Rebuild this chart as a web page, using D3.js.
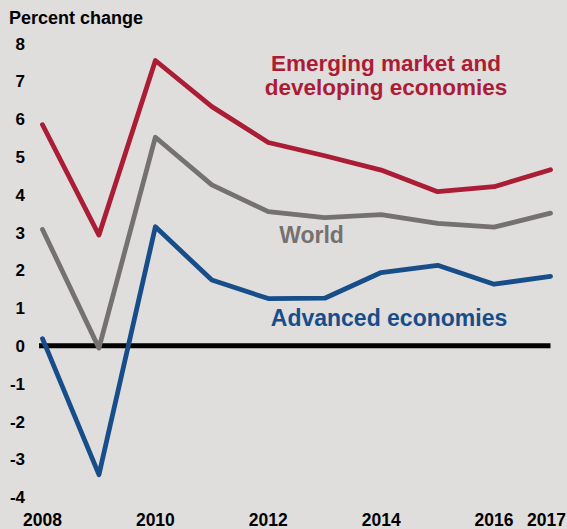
<!DOCTYPE html>
<html>
<head>
<meta charset="utf-8">
<script src="https://cdn.jsdelivr.net/npm/d3@7"></script>
<style>
  body { margin: 0; background: #e0dddd; }
  svg { display: block; }
  text { font-family: "Liberation Sans", Arial, sans-serif; font-weight: bold; }
</style>
</head>
<body>
<script>
//Global variables
const width = 567;
const height = 529;

//Data
const years = [2008, 2009, 2010, 2011, 2012, 2013, 2014, 2015, 2016, 2017];
const emerging = [5.85, 2.93, 7.55, 6.33, 5.38, 5.03, 4.65, 4.08, 4.21, 4.66];
const world = [3.08, -0.06, 5.52, 4.26, 3.55, 3.39, 3.47, 3.24, 3.14, 3.51];
const advanced = [0.19, -3.41, 3.15, 1.74, 1.25, 1.26, 1.94, 2.13, 1.63, 1.84];
const yTicks = [-4, -3, -2, -1, 0, 1, 2, 3, 4, 5, 6, 7, 8];
const xTickYears = [2008, 2010, 2012, 2014, 2016, 2017];

//SVG element
const svg = d3.select("body")
    .append("svg")
    .attr("width", width)
    .attr("height", height);

//Scales
const x = d3.scaleLinear()
    .domain([2008, 2017])
    .range([42.5, 550.5]);
const y = d3.scaleLinear()
    .domain([-4, 8])
    .range([497, 43.5]);

//Y axis labels
svg.append("g")
    .selectAll("text")
    .data(yTicks)
    .enter()
    .append("text")
    .attr("x", 25)
    .attr("y", d => y(d))
    .attr("dy", "0.36em")
    .attr("text-anchor", "end")
    .style("font-size", "17px")
    .attr("fill", "#000")
    .text(d => d);

//X axis labels
svg.append("g")
    .selectAll("text")
    .data(xTickYears)
    .enter()
    .append("text")
    .attr("x", d => d === 2017 ? 566 : x(d))
    .attr("y", 526)
    .attr("text-anchor", d => d === 2017 ? "end" : "middle")
    .style("font-size", "17.5px")
    .attr("fill", "#000")
    .text(d => d);

//Zero line
svg.append("line")
    .attr("x1", 39)
    .attr("x2", x(2017))
    .attr("y1", y(0))
    .attr("y2", y(0))
    .attr("stroke", "#000")
    .attr("stroke-width", 5);

//Series lines
const series = [
    { values: world, color: "#767171" },
    { values: advanced, color: "#174e8a" },
    { values: emerging, color: "#ab1c35" }
];

const line = d3.line()
    .x((d, i) => x(years[i]))
    .y(d => y(d));

svg.append("g")
    .selectAll("path")
    .data(series)
    .enter()
    .append("path")
    .attr("d", d => line(d.values))
    .attr("fill", "none")
    .attr("stroke", d => d.color)
    .attr("stroke-width", 4.8)
    .attr("stroke-linecap", "round")
    .attr("stroke-linejoin", "round");

//Header
svg.append("text")
    .attr("x", 9)
    .attr("y", 24)
    .style("font-size", "18px")
    .attr("fill", "#000")
    .text("Percent change");

//Series labels
svg.append("text")
    .attr("x", 386)
    .attr("y", 70.5)
    .attr("text-anchor", "middle")
    .style("font-size", "22.5px")
    .attr("fill", "#ab1c35")
    .text("Emerging market and");
svg.append("text")
    .attr("x", 386)
    .attr("y", 95)
    .attr("text-anchor", "middle")
    .style("font-size", "22.5px")
    .attr("fill", "#ab1c35")
    .text("developing economies");

svg.append("text")
    .attr("x", 311.5)
    .attr("y", 243)
    .attr("text-anchor", "middle")
    .style("font-size", "23px")
    .attr("fill", "#767171")
    .text("World");

svg.append("text")
    .attr("x", 389)
    .attr("y", 326)
    .attr("text-anchor", "middle")
    .style("font-size", "23px")
    .attr("fill", "#174e8a")
    .text("Advanced economies");
</script>
</body>
</html>
